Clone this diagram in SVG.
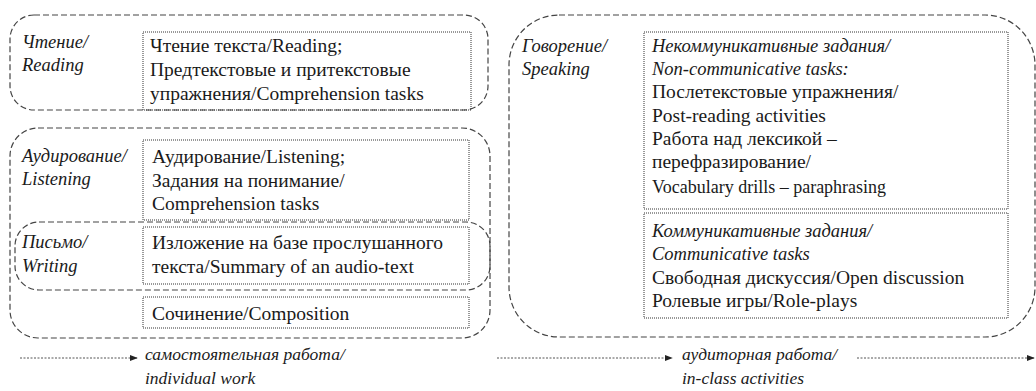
<svg xmlns="http://www.w3.org/2000/svg" width="1036" height="391" viewBox="0 0 1036 391">
<defs>
<style>
.outer{fill:none;stroke:#444;stroke-width:1.2;stroke-dasharray:6 3}
.inner{fill:none;stroke:#333;stroke-width:1;stroke-dasharray:1 1}
.conn{fill:none;stroke:#555;stroke-width:1;stroke-dasharray:2 1.5}
text{font-family:"Liberation Serif","Times New Roman",serif;font-size:19.5px;fill:#1a1a1a}
.it{font-style:italic;font-size:18.5px}
.lab{font-style:italic;font-size:17.5px}
</style>
<marker id="ah" viewBox="0 0 10 10" refX="9" refY="5" markerWidth="8" markerHeight="8" markerUnits="userSpaceOnUse" orient="auto">
<path d="M0,1 L10,5 L0,9 Z" fill="#222"/>
</marker>
</defs>
<rect width="1036" height="391" fill="#fff"/>

<g id="reading">
<rect class="outer" x="10" y="15" width="478" height="95" rx="24"/>
<rect class="inner" x="143" y="32" width="328" height="78"/>
<text class="it" x="22" y="48">Чтение/</text>
<text class="it" x="22" y="71">Reading</text>
<text x="150" y="52">Чтение текста/Reading;</text>
<text x="150" y="76">Предтекстовые и притекстовые</text>
<text x="150" y="100">упражнения/Comprehension tasks</text>
</g>

<g id="listening">
<rect class="outer" x="10" y="128" width="480" height="210" rx="28"/>
<rect class="inner" x="143" y="140" width="326" height="80"/>
<text class="it" x="22" y="162">Аудирование/</text>
<text class="it" x="22" y="185">Listening</text>
<text x="152" y="163">Аудирование/Listening;</text>
<text x="152" y="187">Задания на понимание/</text>
<text x="152" y="210">Comprehension tasks</text>
</g>

<g id="writing">
<rect class="outer" x="15" y="222" width="475" height="68" rx="24"/>
<rect class="inner" x="143" y="227" width="326" height="57"/>
<text class="it" x="22" y="248">Письмо/</text>
<text class="it" x="22" y="272">Writing</text>
<text x="152" y="249">Изложение на базе прослушанного</text>
<text x="152" y="273">текста/Summary of an audio-text</text>
</g>

<g id="composition">
<rect class="inner" x="143" y="297" width="326" height="31"/>
<text x="152" y="320">Сочинение/Composition</text>
</g>

<g id="speaking">
<rect class="outer" x="509" y="15" width="526" height="322" rx="50"/>
<text class="it" x="522" y="52">Говорение/</text>
<text class="it" x="522" y="75">Speaking</text>
</g>

<g id="noncomm">
<rect class="inner" x="644" y="32" width="364" height="177"/>
<text class="it" x="652" y="52">Некоммуникативные задания/</text>
<text class="it" x="652" y="75">Non-communicative tasks:</text>
<text x="652" y="98">Послетекстовые упражнения/</text>
<text x="652" y="122">Post-reading activities</text>
<text x="652" y="145">Работа над лексикой –</text>
<text x="652" y="168">перефразирование/</text>
<text x="652" y="193" style="font-size:18px">Vocabulary drills – paraphrasing</text>
</g>

<g id="comm">
<rect class="inner" x="644" y="213" width="364" height="105"/>
<text class="it" x="652" y="237">Коммуникативные задания/</text>
<text class="it" x="652" y="260">Communicative tasks</text>
<text x="652" y="284">Свободная дискуссия/Open discussion</text>
<text x="652" y="307">Ролевые игры/Role-plays</text>
</g>

<g id="labels">
<text class="lab" x="145" y="360">самостоятельная работа/</text>
<text class="lab" x="145" y="384">individual work</text>
<text class="lab" x="682" y="360">аудиторная работа/</text>
<text class="lab" x="682" y="384">in-class activities</text>
</g>

<g id="connectors">
<line class="conn" x1="20" y1="358" x2="137" y2="358" marker-end="url(#ah)"/>
<line class="conn" x1="497" y1="358" x2="672" y2="358" marker-end="url(#ah)"/>
<line class="conn" x1="857" y1="358" x2="1034" y2="358" marker-end="url(#ah)"/>
</g>
</svg>
